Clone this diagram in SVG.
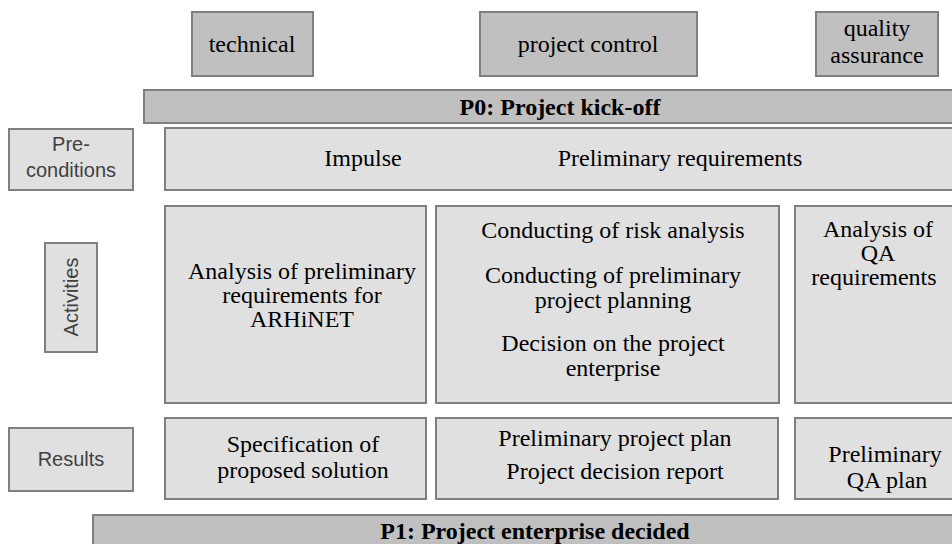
<svg xmlns="http://www.w3.org/2000/svg" width="952" height="544" viewBox="0 0 952 544">
<style>
.hd{fill:#c0c0c0;stroke:#808080;stroke-width:2}
.bx{fill:#e0e0e0;stroke:#808080;stroke-width:2}
.lb{fill:#e0e0e0;stroke:#808080;stroke-width:2}
.s{font-family:"Liberation Serif",serif;font-size:24px;fill:#000;text-anchor:middle}
.b{font-family:"Liberation Serif",serif;font-size:24px;font-weight:bold;fill:#000;text-anchor:middle}
.l{font-family:"Liberation Sans",sans-serif;font-size:20px;fill:#404040;text-anchor:middle}
</style>
<rect width="952" height="544" fill="#ffffff"/>
<g id="col-technical"><rect class="hd" x="192" y="12" width="121" height="64"/><text class="s" x="252" y="52" font-family="Liberation Serif">technical</text></g>
<g id="col-project-control"><rect class="hd" x="480" y="12" width="217" height="64"/><text class="s" x="588" y="52">project control</text></g>
<g id="col-qa"><rect class="hd" x="816" y="12" width="122" height="64"/><text class="s" x="877" y="36">quality</text><text class="s" x="877" y="63">assurance</text></g>
<g id="p0"><rect class="hd" x="144" y="90" width="820" height="33"/><text class="b" x="560" y="115">P0: Project kick-off</text></g>
<g id="lbl-pre"><rect class="lb" x="9" y="129" width="124" height="61"/><text class="l" x="71" y="151">Pre-</text><text class="l" x="71" y="177">conditions</text></g>
<g id="pre"><rect class="bx" x="165" y="128" width="800" height="62"/><text class="s" x="363" y="166">Impulse</text><text class="s" x="680" y="166">Preliminary requirements</text></g>
<g id="lbl-act"><rect class="lb" x="45" y="243" width="52" height="109"/><text class="l" transform="translate(78,297) rotate(-90)" x="0" y="0">Activities</text></g>
<g id="act-tech"><rect class="bx" x="165" y="206" width="261" height="197"/><text class="s" x="302" y="279">Analysis of preliminary</text><text class="s" x="302" y="303">requirements for</text><text class="s" x="302" y="327">ARHiNET</text></g>
<g id="act-pc"><rect class="bx" x="436" y="206" width="343" height="197"/><text class="s" x="613" y="238">Conducting of risk analysis</text><text class="s" x="613" y="283">Conducting of preliminary</text><text class="s" x="613" y="308">project planning</text><text class="s" x="613" y="351">Decision on the project</text><text class="s" x="613" y="376">enterprise</text></g>
<g id="act-qa"><rect class="bx" x="795" y="206" width="170" height="197"/><text class="s" x="878" y="237">Analysis of</text><text class="s" x="878" y="261">QA</text><text class="s" x="874" y="285">requirements</text></g>
<g id="lbl-res"><rect class="lb" x="9" y="428" width="124" height="63"/><text class="l" x="71" y="466">Results</text></g>
<g id="res-tech"><rect class="bx" x="165" y="418" width="261" height="81"/><text class="s" x="303" y="452">Specification of</text><text class="s" x="303" y="478">proposed solution</text></g>
<g id="res-pc"><rect class="bx" x="436" y="418" width="342" height="81"/><text class="s" x="615" y="446">Preliminary project plan</text><text class="s" x="615" y="479">Project decision report</text></g>
<g id="res-qa"><rect class="bx" x="795" y="418" width="170" height="81"/><text class="s" x="885" y="462">Preliminary</text><text class="s" x="887" y="488">QA plan</text></g>
<g id="p1"><rect class="hd" x="93" y="515" width="880" height="40"/><text class="b" x="535" y="539">P1: Project enterprise decided</text></g>
<g id="connectors"/>
</svg>
